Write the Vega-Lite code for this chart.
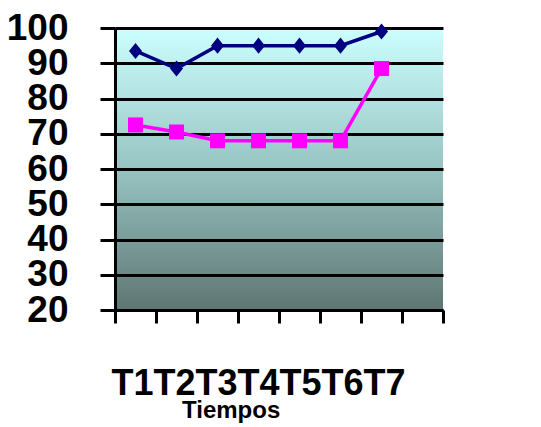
{
  "$schema": "https://vega.github.io/schema/vega-lite/v6.json",
  "width": 328,
  "height": 282,
  "autosize": {"type": "none"},
  "padding": {"left": 115, "top": 28, "right": 98, "bottom": 117},
  "background": "white",
  "view": {
    "stroke": null,
    "fill": {
      "gradient": "linear", "x1": 0, "y1": 0, "x2": 0, "y2": 1,
      "stops": [
        {"offset": 0, "color": "#ccffff"},
        {"offset": 0.5, "color": "#97c4c2"},
        {"offset": 1, "color": "#5e7572"}
      ]
    }
  },
  "title": {
    "text": "Tiempos",
    "orient": "bottom",
    "anchor": "start",
    "frame": "group",
    "dx": 67,
    "offset": -2,
    "font": "Liberation Sans",
    "fontSize": 24,
    "fontWeight": "bold",
    "color": "black"
  },
  "data": {
    "values": [
      {"t": "T1", "serie": "TAMp(mmHg)", "v": 93.5},
      {"t": "T2", "serie": "TAMp(mmHg)", "v": 88.5},
      {"t": "T3", "serie": "TAMp(mmHg)", "v": 95},
      {"t": "T4", "serie": "TAMp(mmHg)", "v": 95},
      {"t": "T5", "serie": "TAMp(mmHg)", "v": 95},
      {"t": "T6", "serie": "TAMp(mmHg)", "v": 95},
      {"t": "T7", "serie": "TAMp(mmHg)", "v": 99},
      {"t": "T1", "serie": "FCp(L/mint)", "v": 72.5},
      {"t": "T2", "serie": "FCp(L/mint)", "v": 70.5},
      {"t": "T3", "serie": "FCp(L/mint)", "v": 68},
      {"t": "T4", "serie": "FCp(L/mint)", "v": 68},
      {"t": "T5", "serie": "FCp(L/mint)", "v": 68},
      {"t": "T6", "serie": "FCp(L/mint)", "v": 68},
      {"t": "T7", "serie": "FCp(L/mint)", "v": 88.5}
    ]
  },
  "encoding": {
    "x": {
      "field": "t", "type": "ordinal",
      "scale": {"type": "band", "domain": ["T1", "T2", "T3", "T4", "T5", "T6", "T7", "T8"], "paddingInner": 0, "paddingOuter": 0},
      "axis": {
        "labels": false,
        "tickBand": "extent",
        "ticks": true,
        "tickSize": 13,
        "tickWidth": 3,
        "tickColor": "black",
        "domainColor": "black",
        "domainWidth": 3,
        "grid": false,
        "title": "T1T2T3T4T5T6T7",
        "titleFont": "Liberation Sans",
        "titleFontSize": 36,
        "titleFontWeight": "bold",
        "titleColor": "black",
        "titleX": 143,
        "titleY": 84,
        "titleBaseline": "alphabetic",
        "titleAlign": "center"
      }
    },
    "y": {
      "field": "v", "type": "quantitative",
      "scale": {"domain": [20, 100], "nice": false, "zero": false},
      "axis": {
        "values": [20, 30, 40, 50, 60, 70, 80, 90, 100],
        "title": null,
        "labelFont": "Liberation Sans",
        "labelFontSize": 37,
        "labelFontWeight": "bold",
        "labelColor": "black",
        "labelOverlap": false,
        "labelPadding": 32,
        "tickSize": 15,
        "tickWidth": 3,
        "tickColor": "black",
        "domainColor": "black",
        "domainWidth": 3,
        "grid": true,
        "gridColor": "black",
        "gridWidth": 3,
        "gridOpacity": 1
      }
    },
    "color": {
      "field": "serie", "type": "nominal",
      "scale": {"domain": ["TAMp(mmHg)", "FCp(L/mint)"], "range": ["#000080", "#ff00ff"]},
      "legend": null
    }
  },
  "layer": [
    {"mark": {"type": "line", "strokeWidth": 3.5}},
    {
      "transform": [{"filter": "datum.serie === 'TAMp(mmHg)'"}],
      "mark": {"type": "point", "filled": true, "size": 225, "opacity": 1, "shape": "M0,-1.07L0.87,0L0,1.07L-0.87,0Z"}
    },
    {
      "transform": [{"filter": "datum.serie === 'FCp(L/mint)'"}],
      "mark": {"type": "point", "filled": true, "size": 225, "opacity": 1, "shape": "square"}
    },
    {
      "mark": {"type": "point", "filled": true, "size": 225, "opacity": 0},
      "encoding": {
        "color": {
          "field": "serie", "type": "nominal",
          "scale": {"domain": ["TAMp(mmHg)", "FCp(L/mint)"], "range": ["#000080", "#ff00ff"]},
          "legend": {
            "title": null,
            "orient": "none",
            "legendX": 225,
            "legendY": 103,
            "padding": 20,
            "strokeColor": "black",
            "rowPadding": 43,
            "symbolSize": 225,
            "symbolOffset": 10,
            "symbolOpacity": 1,
            "symbolStrokeWidth": 0,
            "labelOffset": 22,
            "labelFont": "Open Sans",
            "labelFontSize": 19,
            "labelColor": "#111111",
            "labelLimit": 300
          }
        },
        "shape": {
          "field": "serie", "type": "nominal",
          "scale": {"domain": ["TAMp(mmHg)", "FCp(L/mint)"], "range": ["M-3.53,-0.2H3.53V0.2H-3.53Z M0,-1.07L0.87,0L0,1.07L-0.87,0Z", "M-3.53,-0.2H3.53V0.2H-3.53Z M-1,-1H1V1H-1Z"]},
          "legend": {
            "title": null,
            "orient": "none",
            "legendX": 225,
            "legendY": 103,
            "padding": 20,
            "strokeColor": "black",
            "rowPadding": 43,
            "symbolSize": 225,
            "symbolOffset": 10,
            "symbolOpacity": 1,
            "symbolFillColor": "black",
            "symbolStrokeWidth": 0,
            "labelOffset": 22,
            "labelFont": "Open Sans",
            "labelFontSize": 19,
            "labelColor": "#111111",
            "labelLimit": 300
          }
        }
      }
    }
  ]
}
